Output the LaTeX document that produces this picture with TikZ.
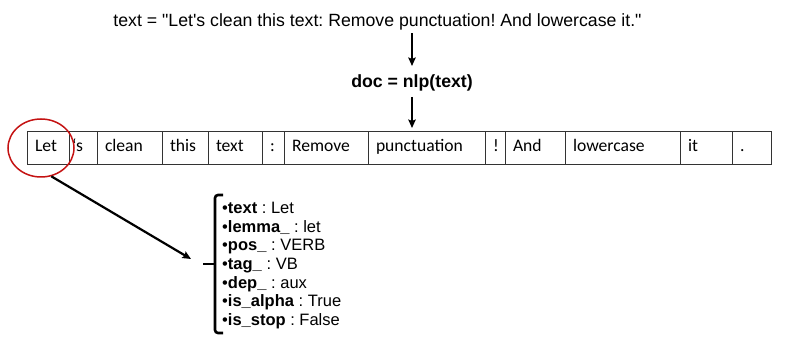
\documentclass[tikz,border=0pt]{standalone}
\usepackage{fontspec}
\setmainfont{Liberation Sans}
\newfontfamily\tokfont{Carlito}
\usetikzlibrary{arrows.meta,shapes.geometric}
\definecolor{hlred}{RGB}{196,18,18}
\frenchspacing
\begin{document}
\begin{tikzpicture}[x=1pt,y=-1pt,
  cell/.style={draw=black!80, line width=0.9pt, outer sep=0pt, inner xsep=8pt, inner ysep=0pt,
    minimum height=33pt, text height=12pt, text depth=4pt, align=left, anchor=west,
    font=\tokfont\fontsize{17.6}{20}\selectfont},
  flow/.style={line width=2pt, -{Stealth[length=8.5pt,width=7.5pt,inset=1.5pt]}},
  caption/.style={inner sep=0pt, anchor=base},
  attr/.style={inner sep=0pt, anchor=base west, font=\fontsize{16.5}{19}\selectfont},
]
\useasboundingbox (0,0) rectangle (789,347);

% source string and the nlp call
\node[caption, font=\fontsize{17.7}{20}\selectfont] (src) at (377.5,26.5)
  {text = \textquotedbl Let\textquotesingle s clean this text: Remove punctuation! And lowercase it.\textquotedbl};
\node[caption, font=\bfseries\fontsize{17.7}{20}\selectfont] (doc) at (412,88) {doc = nlp(text)};

% token row
\node[cell, text width=26pt] (t1) at (27,147.5) {Let};
\node[cell, inner xsep=3pt, text width=22pt] (t2) at (t1.east) {‘s};
\node[cell, text width=49pt] (t3) at (t2.east) {clean};
\node[cell, text width=30pt] (t4) at (t3.east) {this};
\node[cell, text width=38pt] (t5) at (t4.east) {text};
\node[cell, text width=6pt] (t6) at (t5.east) {:};
\node[cell, text width=68pt] (t7) at (t6.east) {Remove};
\node[cell, text width=101pt] (t8) at (t7.east) {punctuation};
\node[cell, text width=4pt] (t9) at (t8.east) {!};
\node[cell, text width=44pt] (t10) at (t9.east) {And};
\node[cell, text width=99pt] (t11) at (t10.east) {lowercase};
\node[cell, text width=36pt] (t12) at (t11.east) {it};
\node[cell, text width=23pt] (t13) at (t12.east) {.};

% flow arrows
\draw[flow, shorten <=3pt, shorten >=9pt] (src.south -| doc.north) -- (doc.north);
\draw[flow, shorten <=5pt, shorten >=3pt] (doc.south) -- (doc.south |- t8.north);

% highlighted token
\node[draw=hlred, line width=1.5pt, ellipse, minimum width=66pt, minimum height=58pt, inner sep=0pt] (hl) at (41,148) {};
\coordinate (tip) at (191,259);
\draw[flow, line width=2.2pt] (hl.-70) -- (tip);

% curly bracket
\draw[line width=2.6pt, rounded corners=3pt] (223,195) -- (215,195) -- (215,333) -- (223,333);
\draw[line width=2.6pt] (215,264) -- (203,264);

% token attributes
\node[attr] (a1) at (222,213.5) {•\textbf{text} : Let};
\node[attr] (a2) at (222,232.2) {•\textbf{lemma\_} : let};
\node[attr] (a3) at (222,250.8) {•\textbf{pos\_} : VERB};
\node[attr] (a4) at (222,269.5) {•\textbf{tag\_} : VB};
\node[attr] (a5) at (222,288.2) {•\textbf{dep\_} : aux};
\node[attr] (a6) at (222,306.8) {•\textbf{is\_alpha} : True};
\node[attr] (a7) at (222,325.5) {•\textbf{is\_stop} : False};
\end{tikzpicture}
\end{document}
